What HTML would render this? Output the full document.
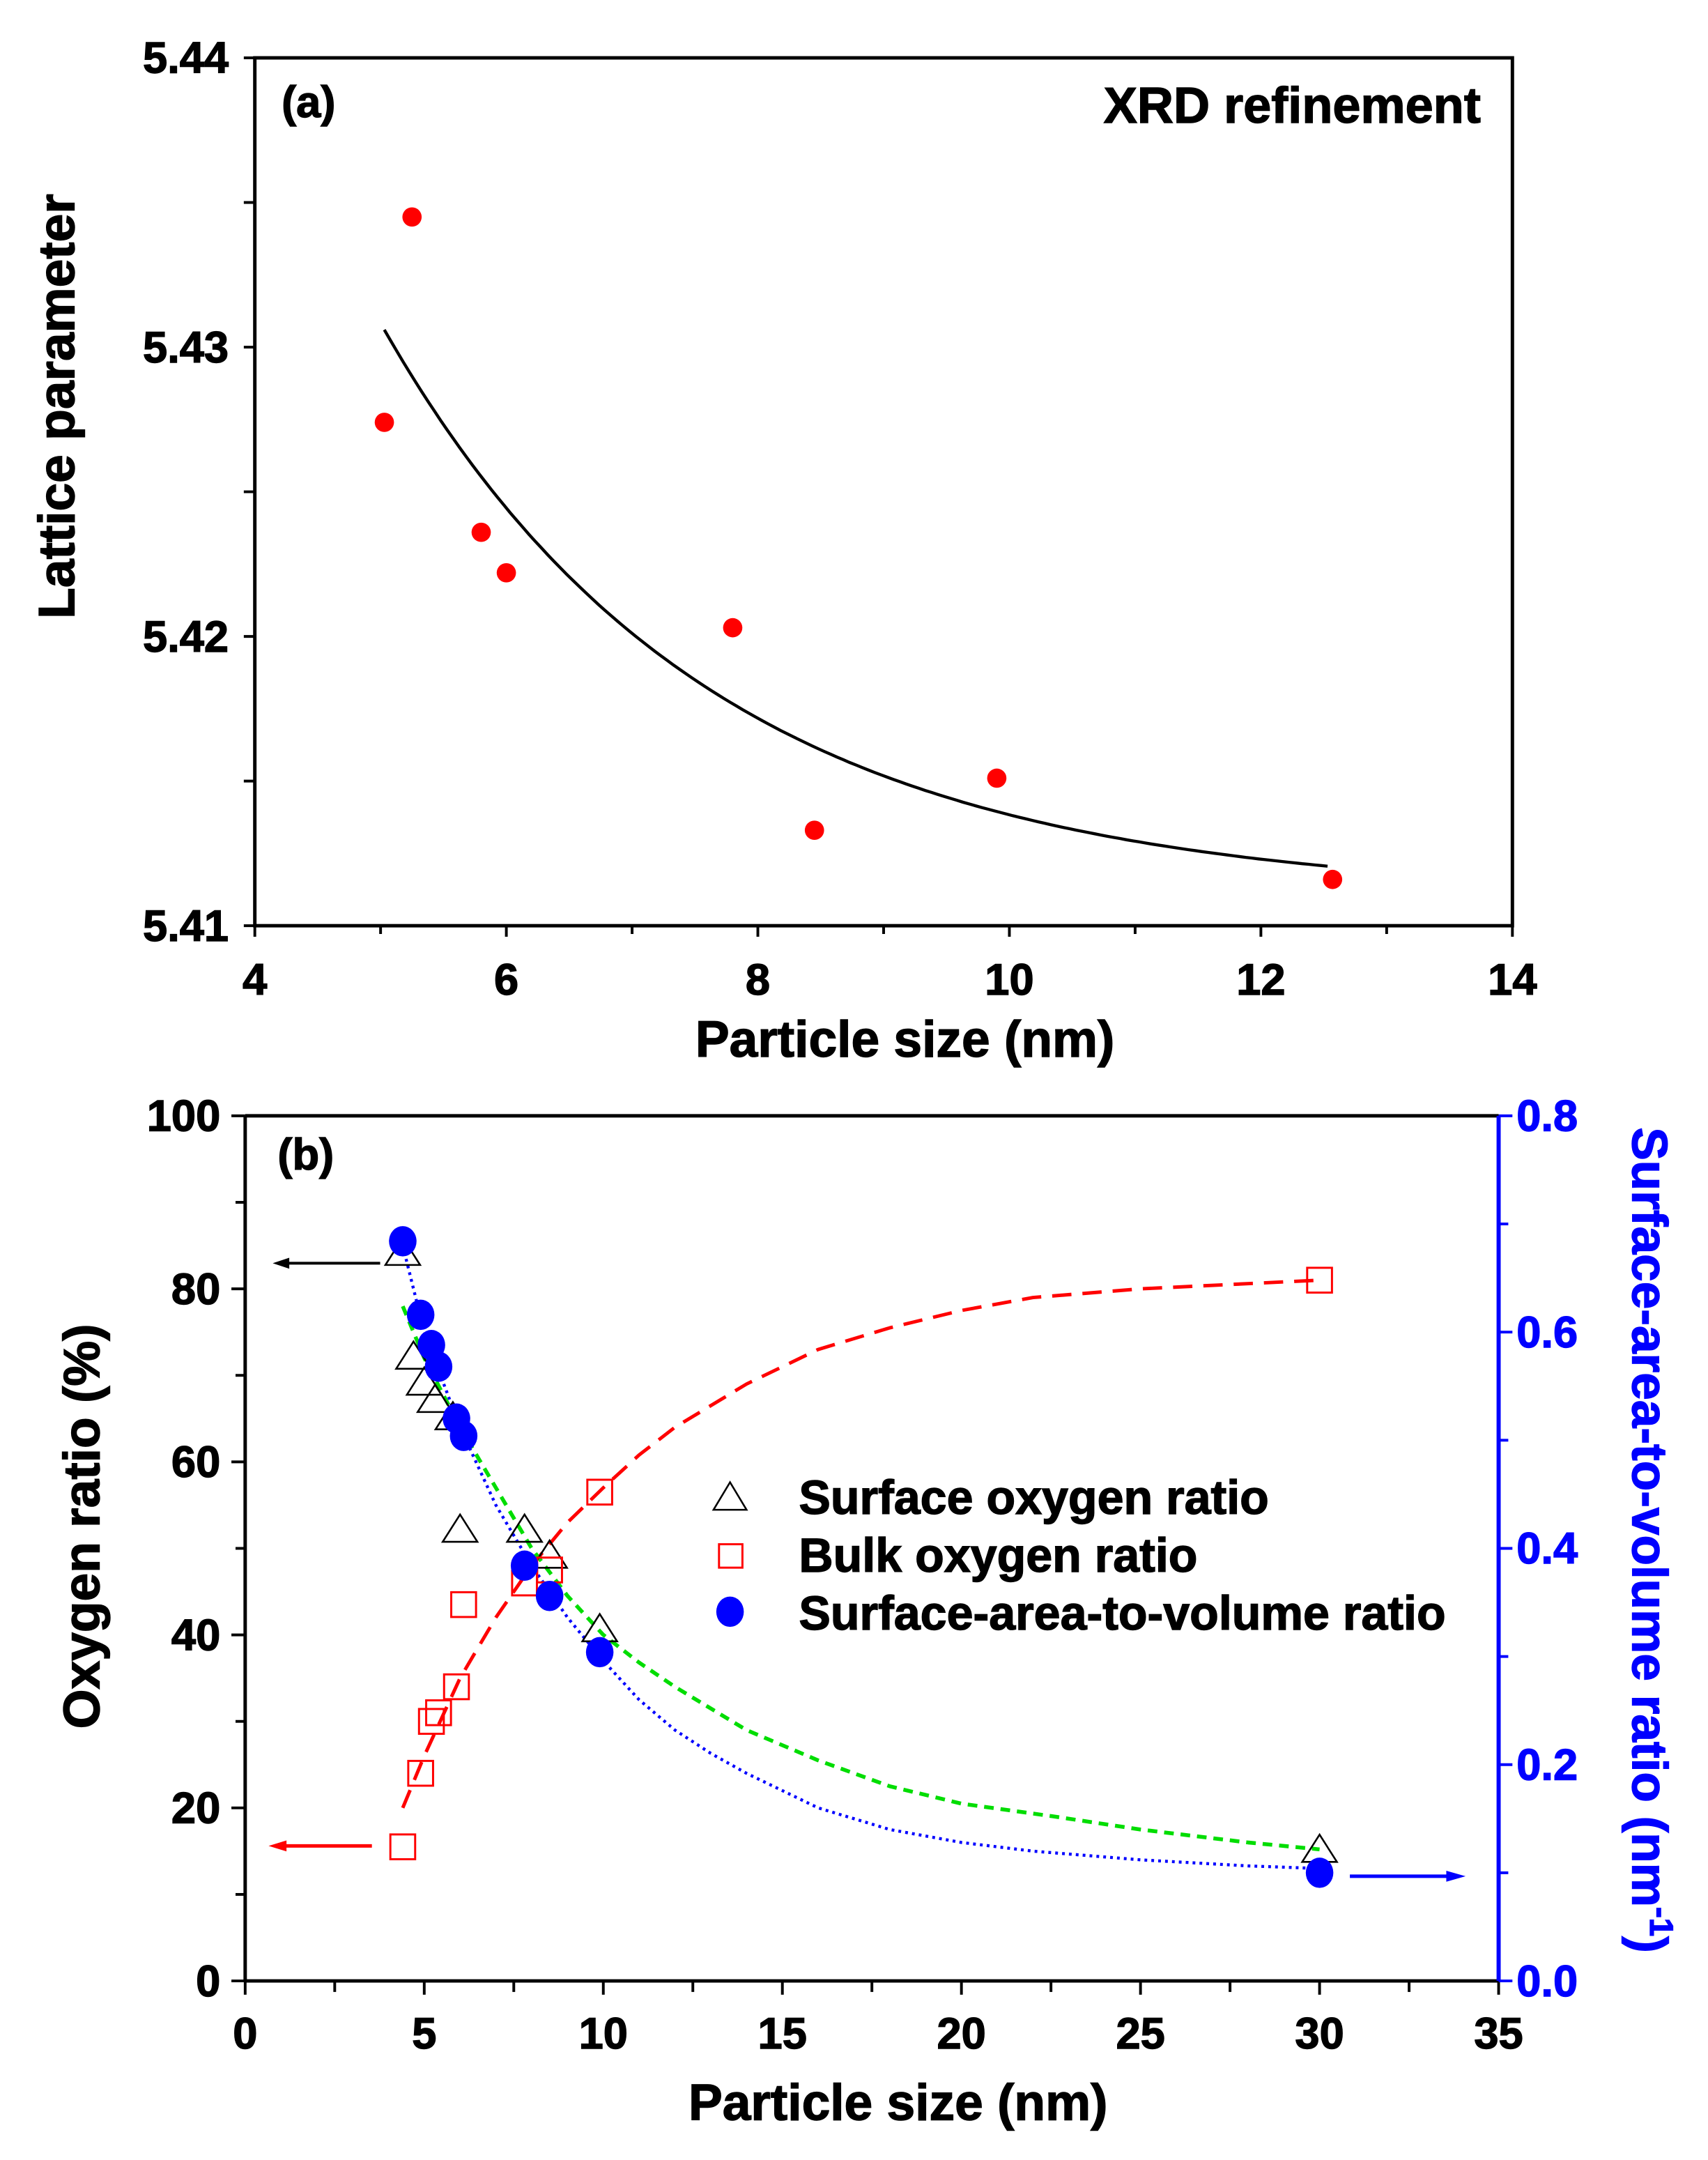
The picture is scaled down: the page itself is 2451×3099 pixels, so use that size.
<!DOCTYPE html>
<html><head><meta charset="utf-8">
<style>
html,body{margin:0;padding:0;background:#fff;}
svg{display:block;}
text{font-family:"Liberation Sans",Arial,sans-serif;font-weight:bold;stroke-width:0.7;}
</style></head>
<body>
<svg id="s" width="2451" height="3099" viewBox="0 0 1240 1568" preserveAspectRatio="none" xmlns="http://www.w3.org/2000/svg"></svg>
<script>
var s=document.getElementById('s');var h='';
function L(x1,y1,x2,y2,c,w,extra){h+='<line x1="'+x1+'" y1="'+y1+'" x2="'+x2+'" y2="'+y2+'" stroke="'+c+'" stroke-width="'+w+'" '+(extra||'')+'/>';}
function T(x,y,t,size,anchor,col,extra){col=col||'#000';h+='<text x="'+x+'" y="'+y+'" font-size="'+size+'" text-anchor="'+(anchor||'middle')+'" fill="'+col+'" stroke="'+col+'" '+(extra||'')+'>'+t+'</text>';}
// Panel a
var ax=function(x){return 185+(x-4)*91.3;}, ay=function(y){return 672-(y-5.41)*21000;};
h+='<rect x="185" y="42" width="913" height="630" fill="none" stroke="#000" stroke-width="2.5"/>';
for(var x=4;x<=14;x+=1){var X=ax(x);L(X,672,X,x%2==0?680:678,'#000',2);}
for(var i=0;i<=6;i++){var y=5.41+i*0.005;var Y=ay(y);L(177,Y,185,Y,'#000',2);}
[4,6,8,10,12,14].forEach(function(x){T(ax(x),722,x,32);});
['5.41','5.42','5.43','5.44'].forEach(function(v){T(166,ay(+v)+11,v,32,'end');});
T(224,85,'(a)',32,'middle');
T(1075,89,'XRD refinement',36.5,'end');
T(657,767,'Particle size (nm)',37);
T(54,295,'Lattice parameter',37,'middle','#000','transform="rotate(-90 54 295)"');
var p='';for(var x=5.03;x<=12.57;x+=0.05){var y=5.411+0.0196*Math.exp(-(x-5.03)/2.57);p+=(p?' L':'M')+ax(x).toFixed(1)+','+ay(y).toFixed(1);}
h+='<path d="'+p+'" fill="none" stroke="#000" stroke-width="2.2"/>';
[[5.03,5.4274],[5.25,5.4345],[5.8,5.4236],[6.0,5.4222],[7.8,5.4203],[8.45,5.4133],[9.9,5.4151],[12.57,5.4116]].forEach(function(d){h+='<circle cx="'+ax(d[0])+'" cy="'+ay(d[1])+'" r="7" fill="#ff0000"/>';});
// Panel b
var bx=function(x){return 178+x*26;}, by=function(p){return 1438-p*6.28;};
L(178,810,1088,810,'#000',2.5);L(178,810,178,1438,'#000',2.5);L(178,1438,1088,1438,'#000',2.5);
L(1088,810,1088,1438,'#0000ff',3);
for(var x=0;x<=35;x+=2.5){var X=bx(x);L(X,1438,X,x%5==0?1448:1446,'#000',2);}
[0,5,10,15,20,25,30,35].forEach(function(x){T(bx(x),1487,x,32);});
for(var v=0;v<=100;v+=10){var Y=by(v);L(v%20==0?168:171,Y,178,Y,'#000',2);}
[0,20,40,60,80,100].forEach(function(v){T(160,by(v)+11,v,32,'end');});
for(var i=0;i<=8;i++){var Y=1438-i*78.5;L(1088,Y,i%2==0?1098:1095,Y,'#0000ff',2);}
['0.0','0.2','0.4','0.6','0.8'].forEach(function(v,i){T(1101,1438-i*157+11,v,32,'start','#0000ff');});
T(222,849,'(b)',32);
T(652,1539,'Particle size (nm)',37);
T(72,1108,'Oxygen ratio (%)',37,'middle','#000','transform="rotate(-90 72 1108)"');
h+='<text x="1185" y="1118" font-size="36" text-anchor="middle" fill="#0000ff" stroke="#0000ff" transform="rotate(90 1185 1118)">Surface-area-to-volume ratio (nm<tspan dy="-13" font-size="24">-1</tspan><tspan dy="13">)</tspan></text>';
function path(pts,c,w,dash){var d='';pts.forEach(function(q,i){d+=(i?' L':'M')+bx(q[0]).toFixed(1)+','+by(q[1]).toFixed(1);});h+='<path d="'+d+'" fill="none" stroke="'+c+'" stroke-width="'+w+'" stroke-dasharray="'+dash+'" stroke-linejoin="round"/>';}
path([[4.4,20],[5,26],[6,35],[7,42],[8,48],[9,53],[10,57],[11,60.8],[12,64],[14,69],[16,73],[18,75.5],[20,77.5],[22,79],[25,80],[30,81]],'#ff0000',2.5,'14,8');
path([[4.4,78],[5,72],[6,64],[7,57],[8,50],[9,44.5],[10,40],[11,36.8],[12,34],[14,29],[16,25.5],[18,22.5],[20,20.5],[22.6,19],[25,17.5],[28,16],[30,15.2]],'#00dd00',2.8,'7,5');
path([[4.4,85],[5,75],[6,64],[7,55],[8,48],[9,42],[10,37],[11,32.5],[12,29],[13,26.3],[14,24],[16,20],[18,17.5],[20,16],[22,15],[25,14],[28,13.3],[30,13]],'#0000ff',2.2,'2,3');
function tri(x,y,r){var X=bx(x),Y=by(y);h+='<polygon points="'+X+','+(Y-r)+' '+(X-r*1.05)+','+(Y+r*0.65)+' '+(X+r*1.05)+','+(Y+r*0.65)+'" fill="none" stroke="#000" stroke-width="1.3"/>';}
function sq(x,y,r){var X=bx(x),Y=by(y);h+='<rect x="'+(X-r)+'" y="'+(Y-r)+'" width="'+2*r+'" height="'+2*r+'" fill="none" stroke="#ff0000" stroke-width="1.5"/>';}
[[4.4,84],[4.7,72],[5.0,69],[5.3,67],[5.8,65],[6.0,52],[7.8,52],[8.5,49],[9.9,40.5],[30,15]].forEach(function(d){tri(d[0],d[1],12);});
[[4.4,15.5],[4.9,24],[5.2,30],[5.4,31],[5.9,34],[6.1,43.5],[7.8,46],[8.5,47.5],[9.9,56.5],[30,81]].forEach(function(d){sq(d[0],d[1],9);});
[[4.4,85.5],[4.9,77],[5.2,73.5],[5.4,71],[5.9,65],[6.1,63],[7.8,48],[8.5,44.5],[9.9,38],[30,12.5]].forEach(function(d){h+='<ellipse cx="'+bx(d[0])+'" cy="'+by(d[1])+'" rx="10" ry="11" fill="#0000ff"/>';});
// arrows
L(208,917,276,917,'#000',2);h+='<polygon points="198,917 210,913 210,921" fill="#000"/>';
L(206,1340,270,1340,'#ff0000',2.5);h+='<polygon points="195,1340 208,1336 208,1344" fill="#ff0000"/>';
L(980,1362,1052,1362,'#0000ff',2.5);h+='<polygon points="1064,1362 1050,1358 1050,1366" fill="#0000ff"/>';
// legend
h+='<polygon points="530,1076 518,1096 542,1096" fill="none" stroke="#000" stroke-width="1.3"/>';
h+='<rect x="522" y="1121" width="17" height="17" fill="none" stroke="#ff0000" stroke-width="1.5"/>';
h+='<ellipse cx="530" cy="1170" rx="10" ry="11" fill="#0000ff"/>';
T(580,1099,'Surface oxygen ratio',34.5,'start');
T(580,1141,'Bulk oxygen ratio',34.5,'start');
T(580,1183,'Surface-area-to-volume ratio',34.5,'start');
s.innerHTML=h;
</script>
</body></html>
